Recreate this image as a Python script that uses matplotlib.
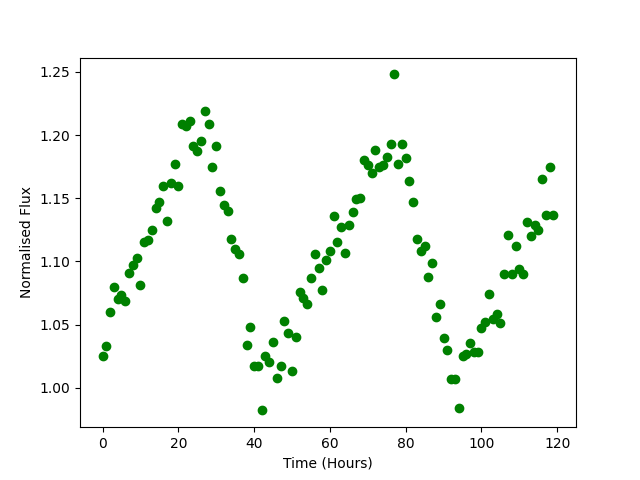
import matplotlib
matplotlib.use("Agg")
import matplotlib.pyplot as plt
import numpy as np

hours = list(range(120))
flux = [
    1.025, 1.033, 1.060, 1.080, 1.070, 1.073, 1.069, 1.091, 1.097, 1.103,
    1.081, 1.115, 1.117, 1.125, 1.142, 1.147, 1.160, 1.132, 1.162, 1.177,
    1.160, 1.209, 1.207, 1.211, 1.191, 1.187, 1.195, 1.219, 1.209, 1.175,
    1.191, 1.156, 1.145, 1.140, 1.118, 1.110, 1.106, 1.087, 1.034, 1.048,
    1.017, 1.017, 0.982, 1.025, 1.020, 1.036, 1.008, 1.017, 1.053, 1.043,
    1.013, 1.040, 1.076, 1.071, 1.066, 1.087, 1.106, 1.095, 1.077, 1.101,
    1.108, 1.136, 1.115, 1.127, 1.107, 1.129, 1.139, 1.149, 1.150, 1.180,
    1.176, 1.170, 1.188, 1.175, 1.176, 1.183, 1.193, 1.248, 1.177, 1.193,
    1.182, 1.164, 1.147, 1.118, 1.108, 1.112, 1.088, 1.099, 1.056, 1.066,
    1.039, 1.030, 1.007, 1.007, 0.984, 1.025, 1.027, 1.035, 1.028, 1.028,
    1.047, 1.052, 1.074, 1.054, 1.058, 1.051, 1.090, 1.121, 1.090, 1.112,
    1.094, 1.090, 1.131, 1.120, 1.129, 1.125, 1.165, 1.137, 1.175, 1.137,
]

fig, ax = plt.subplots(figsize=(6.4, 4.8), dpi=100)
ax.plot(hours, flux, 'go')
ax.set_xlabel('Time (Hours)')
ax.set_ylabel('Normalised Flux')
fig.savefig('out.png')
